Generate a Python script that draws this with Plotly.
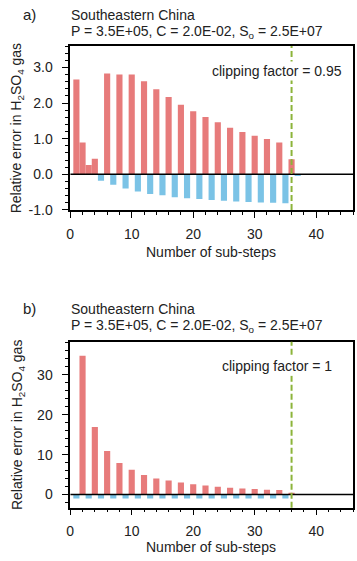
import plotly.graph_objects as go

# ---- Data (panel a: clipping factor = 0.95) ----
a_red_x = [1, 2, 3, 4, 6, 8, 10, 12, 14, 16, 18, 20, 22, 24, 26, 28, 30, 32, 34, 36]
a_red_y = [2.66, 0.89, 0.26, 0.44, 2.83, 2.80, 2.80, 2.61, 2.39, 2.17, 1.95, 1.77,
           1.61, 1.46, 1.31, 1.19, 1.08, 0.99, 0.89, 0.42]
a_blue_x = [5, 7, 9, 11, 13, 15, 17, 19, 21, 23, 25, 27, 29, 31, 33, 35, 37]
a_blue_y = [-0.18, -0.29, -0.40, -0.48, -0.55, -0.59, -0.64, -0.67, -0.69, -0.72,
            -0.74, -0.76, -0.78, -0.79, -0.80, -0.81, -0.05]

# ---- Data (panel b: clipping factor = 1) ----
b_red_x = [2, 4, 6, 8, 10, 12, 14, 16, 18, 20, 22, 24, 26, 28, 30, 32, 34, 36]
b_red_y = [34.8, 16.9, 10.9, 7.9, 6.2, 4.9, 4.0, 3.5, 3.0, 2.6, 2.25, 1.95, 1.7,
           1.5, 1.35, 1.2, 1.1, 0.3]
b_blue_x = [1, 3, 5, 7, 9, 11, 13, 15, 17, 19, 21, 23, 25, 27, 29, 31, 33, 35]
b_blue_y = [-1.0] * 18

a_yticks = [-1.0, 0.0, 1.0, 2.0, 3.0]
a_yticklabels = ["-1.0", "0.0", "1.0", "2.0", "3.0"]
b_yticks = [0, 10, 20, 30]
b_yticklabels = ["0", "10", "20", "30"]
xticks = [0, 10, 20, 30, 40]
xticklabels = ["0", "10", "20", "30", "40"]

clip_step = 36
RED = "#E77B7B"
BLUE = "#7BC3E6"
GREEN = "#8CB43A"
FONT = "Liberation Sans, Arial, sans-serif"
FS = 14

W, H = 357, 561
XL, XR = 67, 353
PA_T, PA_B = 46.7, 213
PB_T, PB_B = 346.7, 515


def py(px):
    return 1 - px / H


def pxx(px):
    return px / W


fig = go.Figure()
for xs, ys, col, xa, ya in [
    (a_red_x, a_red_y, RED, "x", "y"),
    (a_blue_x, a_blue_y, BLUE, "x", "y"),
    (b_red_x, b_red_y, RED, "x2", "y2"),
    (b_blue_x, b_blue_y, BLUE, "x2", "y2"),
]:
    fig.add_trace(go.Bar(x=xs, y=ys, marker=dict(color=col, line=dict(width=0)),
                         width=1.0, xaxis=xa, yaxis=ya, showlegend=False))

axcommon = dict(showline=True, linecolor="black", linewidth=1.5, mirror=True,
                ticks="outside", ticklen=6, tickwidth=1.3, tickcolor="black",
                showgrid=False, zeroline=False,
                tickfont=dict(family=FONT, size=FS, color="#222"))

xcommon = dict(axcommon, range=[0, 46], tickvals=xticks, ticktext=xticklabels,
               minor=dict(ticks="outside", dtick=2, ticklen=3, tickwidth=1, tickcolor="black"),
               domain=[pxx(XL), pxx(XR)], ticklabelstandoff=4)

fig.update_layout(
    width=W, height=H, margin=dict(l=0, r=0, t=0, b=0),
    plot_bgcolor="white", paper_bgcolor="white", barmode="overlay",
    xaxis=dict(xcommon, anchor="y"),
    xaxis2=dict(xcommon, anchor="y2"),
    yaxis=dict(axcommon, range=[-1.0, 3.6], tickvals=a_yticks, ticktext=a_yticklabels,
               minor=dict(ticks="outside", dtick=0.2, ticklen=3, tickwidth=1, tickcolor="black"),
               domain=[py(PA_B), py(PA_T)], anchor="x", ticklabelstandoff=7),
    yaxis2=dict(axcommon, range=[-3.3, 38.3], tickvals=b_yticks, ticktext=b_yticklabels,
                minor=dict(ticks="outside", dtick=2, ticklen=3, tickwidth=1, tickcolor="black"),
                domain=[py(PB_B), py(PB_T)], anchor="x2", ticklabelstandoff=7),
)

shapes = []
for xr, yr in [("x", "y"), ("x2", "y2")]:
    shapes.append(dict(type="line", xref=xr, yref=yr, x0=0, x1=46, y0=0, y1=0,
                       line=dict(color="black", width=1.5), layer="above"))
    shapes.append(dict(type="line", xref=xr, yref=yr + " domain", x0=clip_step, x1=clip_step,
                       y0=0, y1=1, line=dict(color=GREEN, width=2, dash="6px,3px"), layer="above"))
fig.update_layout(shapes=shapes)

ann = []
txt = dict(family=FONT, size=FS, color="#222")
subtitle = "P = 3.5E+05, C = 2.0E-02, S<sub>o</sub> = 2.5E+07"
ytitle = "Relative error in H<sub>2</sub>SO<sub>4</sub> gas"
for lab, t1y, t2y, top, bot, cf, xlab_y in [
    ("a)", 15, 32, PA_T, PA_B, "clipping factor = 0.95", 255.5),
    ("b)", 313, 331, PB_T, PB_B, "clipping factor = 1", 555),
]:
    ann.append(dict(text=lab, x=pxx(17), y=py(t1y), xref="paper", yref="paper",
                    xanchor="left", yanchor="middle", showarrow=False,
                    font=dict(family=FONT, size=15, color="#222")))
    ann.append(dict(text="Southeastern China", x=pxx(66), y=py(t1y), xref="paper", yref="paper",
                    xanchor="left", yanchor="middle", showarrow=False, font=txt))
    ann.append(dict(text=subtitle, x=pxx(66), y=py(t2y), xref="paper", yref="paper",
                    xanchor="left", yanchor="middle", showarrow=False, font=txt))
    ann.append(dict(text=ytitle, x=pxx(13.5), y=py((top + bot) / 2), xref="paper", yref="paper",
                    xanchor="center", yanchor="middle", textangle=-90, showarrow=False, font=txt))
    ann.append(dict(text="Number of sub-steps", x=pxx((XL + XR) / 2 - 1), y=py(xlab_y),
                    xref="paper", yref="paper", xanchor="center", yanchor="middle",
                    showarrow=False, font=txt))
    ann.append(dict(text=cf, x=pxx(276), y=py(top + 25), xref="paper", yref="paper",
                    xanchor="center", yanchor="middle", showarrow=False, font=txt,
                    bgcolor="white"))
fig.update_layout(annotations=ann)

fig.write_html("out.html")
